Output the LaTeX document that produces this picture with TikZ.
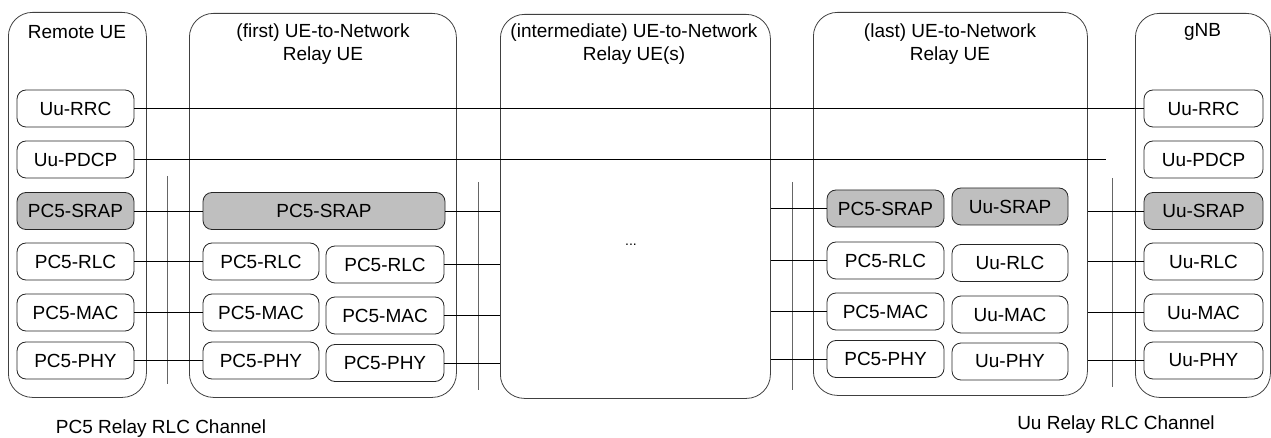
\documentclass[tikz,border=0pt]{standalone}
\usepackage{fontspec}
\setmainfont{Liberation Sans}
\begin{document}
\begin{tikzpicture}[x=1pt,y=-1pt,
  font=\fontsize{19}{23}\selectfont,
  cont/.style={draw=black!75, line width=0.8pt, rounded corners=24pt, inner sep=0pt, anchor=north west},
  box/.style={draw=black!85, line width=0.8pt, rounded corners=9pt, minimum height=37pt, inner sep=0pt},
  srap/.style={box, fill=black!25},
  title/.style={align=center, inner sep=0pt},
  hline/.style={draw=black, line width=0.8pt},
  vline/.style={draw=black!60, line width=0.9pt},
  chan/.style={inner sep=0pt}
]
\useasboundingbox (0,0) rectangle (1271,438);

% containers
\node[cont, minimum width=138pt, minimum height=385pt] (remote) at (8,12) {};
\node[cont, minimum width=267pt, minimum height=384pt] (first) at (189,13) {};
\node[cont, minimum width=270pt, minimum height=384pt] (inter) at (500,14) {};
\node[cont, minimum width=274pt, minimum height=383pt] (last) at (813,12) {};
\node[cont, minimum width=135pt, minimum height=384pt] (gnb) at (1135,13) {};

% titles
\node[title] (tremote) at (77,32) {Remote UE};
\node[title] (tfirst) at (323,44) {(first) UE-to-Network\\Relay UE};
\node[title] (tinter) at (634,44) {(intermediate) UE-to-Network\\Relay UE(s)};
\node[title] (tlast) at (950,44) {(last) UE-to-Network\\Relay UE};
\node[title] (tgnb) at (1202.5,32) {gNB};

% Remote UE stack
\node[box, minimum width=117pt] (rrrc) at (75.5,108.5) {Uu-RRC};
\node[box, minimum width=117pt] (rpdcp) at (75.5,159.5) {Uu-PDCP};
\node[srap, minimum width=117pt] (rsrap) at (75.5,211) {PC5-SRAP};
\node[box, minimum width=117pt] (rrlc) at (75.5,261.5) {PC5-RLC};
\node[box, minimum width=117pt] (rmac) at (75.5,312.5) {PC5-MAC};
\node[box, minimum width=117pt] (rphy) at (75.5,360.5) {PC5-PHY};

% first relay
\node[srap, minimum width=242pt] (fsrap) at (324,211) {PC5-SRAP};
\node[box, minimum width=116pt] (frlcA) at (261,261.5) {PC5-RLC};
\node[box, minimum width=116pt] (fmacA) at (261,312.5) {PC5-MAC};
\node[box, minimum width=116pt] (fphyA) at (261,360.5) {PC5-PHY};
\node[box, minimum width=118pt] (frlcB) at (385,264.5) {PC5-RLC};
\node[box, minimum width=118pt] (fmacB) at (385,315.5) {PC5-MAC};
\node[box, minimum width=118pt] (fphyB) at (385,363) {PC5-PHY};

% intermediate
\node[font=\fontsize{14}{16}\selectfont, inner sep=0pt] (dots) at (631,245) {...};

% last relay
\node[srap, minimum width=117pt] (lsrapA) at (885.5,208.5) {PC5-SRAP};
\node[box, minimum width=117pt] (lrlcA) at (885.5,260.5) {PC5-RLC};
\node[box, minimum width=117pt] (lmacA) at (885.5,311.5) {PC5-MAC};
\node[box, minimum width=117pt] (lphyA) at (885.5,359) {PC5-PHY};
\node[srap, minimum width=116pt] (lsrapB) at (1010,206.5) {Uu-SRAP};
\node[box, minimum width=116pt] (lrlcB) at (1010,263) {Uu-RLC};
\node[box, minimum width=116pt] (lmacB) at (1010,314.5) {Uu-MAC};
\node[box, minimum width=116pt] (lphyB) at (1010,361.5) {Uu-PHY};

% gNB stack
\node[box, minimum width=119pt] (grrc) at (1203.5,108.5) {Uu-RRC};
\node[box, minimum width=119pt] (gpdcp) at (1203.5,159.5) {Uu-PDCP};
\node[srap, minimum width=119pt] (gsrap) at (1203.5,211) {Uu-SRAP};
\node[box, minimum width=119pt] (grlc) at (1203.5,261.5) {Uu-RLC};
\node[box, minimum width=119pt] (gmac) at (1203.5,312.5) {Uu-MAC};
\node[box, minimum width=119pt] (gphy) at (1203.5,360.5) {Uu-PHY};

% channel labels
\node[chan] (pc5ch) at (161,429) {PC5 Relay RLC Channel};
\node[chan] (uuch) at (1116,425) {Uu Relay RLC Channel};

% end coordinate for PDCP line
\coordinate (pdcpend) at (1106,159.5);

% vertical lines
\coordinate (v1t) at (167,176); \coordinate (v1b) at (167,384);
\coordinate (v2t) at (478,182); \coordinate (v2b) at (478,390);
\coordinate (v3t) at (792,182); \coordinate (v3b) at (792,390);
\coordinate (v4t) at (1112,178); \coordinate (v4b) at (1112,387);
\draw[vline] (v1t) -- (v1b);
\draw[vline] (v2t) -- (v2b);
\draw[vline] (v3t) -- (v3b);
\draw[vline] (v4t) -- (v4b);

% horizontal connectors
\draw[hline] (rrrc.east) -- (grrc.west);
\draw[hline] (rpdcp.east) -- (pdcpend);
% Remote - first
\draw[hline] (rsrap.east) -- (fsrap.west);
\draw[hline] (rrlc.east) -- (frlcA.west);
\draw[hline] (rmac.east) -- (fmacA.west);
\draw[hline] (rphy.east) -- (fphyA.west);
% first - intermediate
\draw[hline] (fsrap.east) -- (fsrap.east -| inter.west);
\draw[hline] (frlcB.east) -- (frlcB.east -| inter.west);
\draw[hline] (fmacB.east) -- (fmacB.east -| inter.west);
\draw[hline] (fphyB.east) -- (fphyB.east -| inter.west);
% intermediate - last
\draw[hline] (inter.east |- lsrapA.west) -- (lsrapA.west);
\draw[hline] (inter.east |- lrlcA.west) -- (lrlcA.west);
\draw[hline] (inter.east |- lmacA.west) -- (lmacA.west);
\draw[hline] (inter.east |- lphyA.west) -- (lphyA.west);
% last - gNB
\draw[hline] (last.east |- gsrap.west) -- (gsrap.west);
\draw[hline] (last.east |- grlc.west) -- (grlc.west);
\draw[hline] (last.east |- gmac.west) -- (gmac.west);
\draw[hline] (last.east |- gphy.west) -- (gphy.west);
\end{tikzpicture}
\end{document}
